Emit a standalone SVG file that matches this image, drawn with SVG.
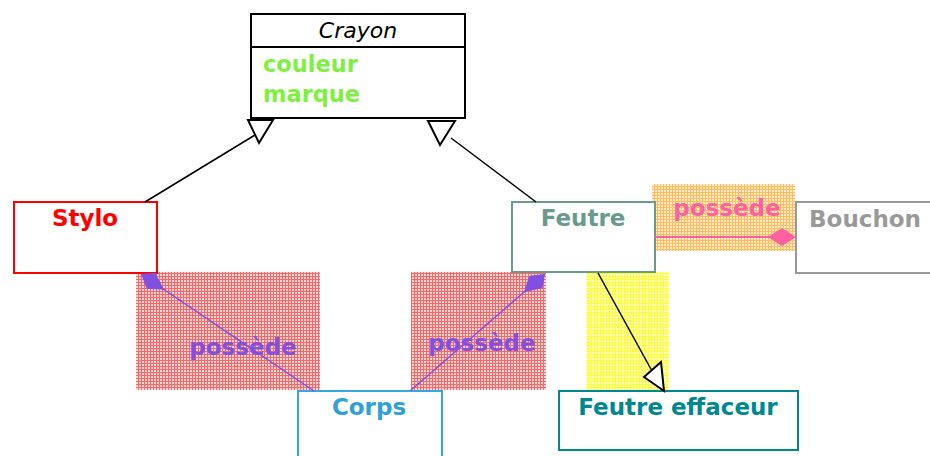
<svg xmlns="http://www.w3.org/2000/svg" width="930" height="456" viewBox="0 0 930 456">
<defs>
<pattern id="hatchRed" width="3" height="3" patternUnits="userSpaceOnUse">
<rect width="3" height="3" fill="#fcd6d6"/>
<rect width="3" height="1" fill="#f46868"/>
<rect width="1" height="3" fill="#f46868"/>
</pattern>
<pattern id="hatchYellow" width="3" height="3" patternUnits="userSpaceOnUse">
<rect width="3" height="3" fill="#ffffc8"/>
<rect width="3" height="1" fill="#ffff30"/>
<rect width="1" height="3" fill="#ffff30"/>
</pattern>
<pattern id="hatchOrange" width="3" height="3" patternUnits="userSpaceOnUse">
<rect width="3" height="3" fill="#ffecd0"/>
<rect width="3" height="1" fill="#ffbc58"/>
<rect width="1" height="3" fill="#ffbc58"/>
</pattern>
<marker id="diaPurple" viewBox="0 0 28 18" refX="0" refY="9" markerWidth="28" markerHeight="18" markerUnits="userSpaceOnUse" orient="auto">
<path d="M0,9 L11,0 L28,9 L13,18 Z" fill="#8050e0"/>
</marker>
<marker id="diaPink" viewBox="0 0 28 18" refX="28" refY="9" markerWidth="28" markerHeight="18" markerUnits="userSpaceOnUse" orient="auto">
<path d="M0,9 L14,0 L28,9 L14,18 Z" fill="#ff60a0"/>
</marker>
<style>
.box{fill:#fff;stroke-width:2}
.lbl{font-family:"DejaVu Sans",Verdana,sans-serif;font-weight:bold;font-size:23px;text-anchor:middle}
.attr{font-family:"DejaVu Sans",Verdana,sans-serif;font-weight:bold;font-size:22.5px;fill:#80f040}
.inh{fill:none;stroke:#000;stroke-width:1.5}
.tri{fill:#fff;stroke:#000;stroke-width:2}
.own{fill:none;stroke:#8050e0;stroke-width:1.5}
</style>
</defs>
<rect width="930" height="456" fill="#fff"/>

<g id="hatches">
<rect x="136" y="272" width="184" height="118" fill="url(#hatchRed)"/>
<rect x="411" y="272" width="135" height="118" fill="url(#hatchRed)"/>
<rect x="586" y="272" width="83" height="118" fill="url(#hatchYellow)"/>
<rect x="652" y="184" width="143" height="67" fill="url(#hatchOrange)"/>
</g>

<g id="crayon">
<rect class="box" x="251" y="14" width="214" height="104" stroke="#000"/>
<line x1="251" y1="47" x2="465" y2="47" stroke="#000" stroke-width="2"/>
<text x="358" y="38" font-family="'DejaVu Sans',Verdana,sans-serif" font-style="italic" font-size="22" text-anchor="middle" fill="#000">Crayon</text>
<text class="attr" x="263" y="72">couleur</text>
<text class="attr" x="263" y="102">marque</text>
</g>

<g id="stylo">
<rect class="box" x="14" y="202" width="143" height="71" stroke="#ff0000"/>
<text class="lbl" x="85" y="226" fill="#ff0000">Stylo</text>
</g>

<g id="feutre">
<rect class="box" x="512" y="202" width="143" height="70" stroke="#6a9a8c"/>
<text class="lbl" x="583" y="226" fill="#6a9a8c">Feutre</text>
</g>

<g id="bouchon">
<rect class="box" x="796" y="202" width="140" height="71" stroke="#999999"/>
<text class="lbl" x="865" y="227" fill="#999999">Bouchon</text>
</g>

<g id="corps">
<rect class="box" x="298" y="391" width="144" height="70" stroke="#38a8d8"/>
<text class="lbl" x="369" y="415" fill="#30a0d8">Corps</text>
</g>

<g id="feutre-effaceur">
<rect class="box" x="559" y="391" width="239" height="59" stroke="#00888f"/>
<text class="lbl" x="678" y="415" fill="#00888f">Feutre effaceur</text>
</g>

<g id="connectors">
<line class="inh" x1="145" y1="202" x2="255" y2="135"/>
<polygon class="tri" points="248,120 273,120 259,143"/>
<line class="inh" x1="536" y1="202" x2="451" y2="138"/>
<polygon class="tri" points="428,121 455,121 440,145"/>
<line class="inh" x1="598" y1="273" x2="652" y2="371"/>
<polygon class="tri" points="644,377 661,362 664,391"/>
<line class="own" x1="141" y1="274" x2="314" y2="391" marker-start="url(#diaPurple)"/>
<line class="own" x1="545" y1="274" x2="410" y2="391" marker-start="url(#diaPurple)"/>
<line x1="655" y1="237" x2="796" y2="237" stroke="#ff60a0" stroke-width="2" marker-end="url(#diaPink)"/>
<text class="lbl" x="243" y="355" fill="#8050e0">possède</text>
<text class="lbl" x="482" y="351" fill="#8050e0">possède</text>
<text class="lbl" x="727" y="216" fill="#ff60a0">possède</text>
</g>
</svg>
